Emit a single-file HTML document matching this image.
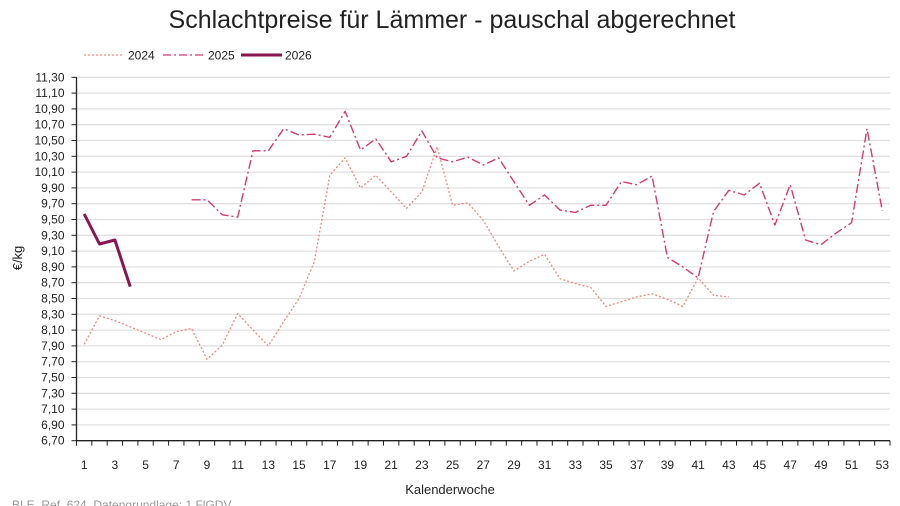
<!DOCTYPE html>
<html><head><meta charset="utf-8"><style>
html,body{margin:0;padding:0;background:#fff;}
svg{display:block;font-family:"Liberation Sans",sans-serif;}
</style></head><body>
<svg id="chart" width="900" height="506" viewBox="0 0 900 506">
<text x="452" y="28" text-anchor="middle" font-size="25" fill="#222">Schlachtpreise für Lämmer - pauschal abgerechnet</text>
<g id="legend">
 <g><line x1="84" y1="55" x2="124" y2="55" stroke="#f08a78" stroke-width="1.2" stroke-dasharray="2,2"/><text x="128" y="59.5" font-size="12" fill="#222">2024</text></g>
 <g><line x1="163" y1="55" x2="203" y2="55" stroke="#d63a6e" stroke-width="1.3" stroke-dasharray="8,3,2,3"/><text x="208" y="59.5" font-size="12" fill="#222">2025</text></g>
 <g><line x1="241" y1="55" x2="282" y2="55" stroke="#8a1650" stroke-width="3"/><text x="285" y="59.5" font-size="12" fill="#222">2026</text></g>
</g>
<g id="grid"></g>
<g id="axes"></g>
<g id="series"></g>
<text x="450" y="494" text-anchor="middle" font-size="13" fill="#222">Kalenderwoche</text>
<text transform="translate(22,258) rotate(-90)" text-anchor="middle" font-size="13" fill="#222">€/kg</text>
<text x="12" y="509" font-size="12" fill="#999">BLE, Ref. 624, Datengrundlage: 1.FlGDV</text>
</svg>
<script>
const weeks2024 = [1,2,3,4,5,6,7,8,9,10,11,12,13,14,15,16,17,18,19,20,21,22,23,24,25,26,27,28,29,30,31,32,33,34,35,36,37,38,39,40,41,42,43];
const values2024 = [7.92,8.28,8.22,8.14,8.06,7.98,8.08,8.12,7.73,7.91,8.31,8.10,7.90,8.21,8.50,8.97,10.06,10.28,9.90,10.06,9.85,9.64,9.85,10.42,9.68,9.71,9.49,9.16,8.85,8.97,9.06,8.75,8.69,8.64,8.40,8.46,8.52,8.56,8.49,8.40,8.76,8.54,8.52];
const weeks2025 = [8,9,10,11,12,13,14,15,16,17,18,19,20,21,22,23,24,25,26,27,28,29,30,31,32,33,34,35,36,37,38,39,40,41,42,43,44,45,46,47,48,49,50,51,52,53];
const values2025 = [9.75,9.75,9.56,9.53,10.37,10.37,10.65,10.57,10.58,10.54,10.87,10.38,10.52,10.23,10.30,10.62,10.28,10.23,10.29,10.19,10.28,9.98,9.68,9.81,9.62,9.59,9.68,9.68,9.98,9.94,10.05,9.02,8.90,8.76,9.60,9.87,9.81,9.96,9.43,9.94,9.24,9.18,9.33,9.46,10.65,9.61];
const weeks2026 = [1,2,3,4];
const values2026 = [9.57,9.19,9.24,8.65];
const yTicks = [6.7,6.9,7.1,7.3,7.5,7.7,7.9,8.1,8.3,8.5,8.7,8.9,9.1,9.3,9.5,9.7,9.9,10.1,10.3,10.5,10.7,10.9,11.1,11.3];
const xLabels = [1,3,5,7,9,11,13,15,17,19,21,23,25,27,29,31,33,35,37,39,41,43,45,47,49,51,53];

const NS="http://www.w3.org/2000/svg";
const L=76.5,R=890,T=77.3,B=440.7,yMin=6.7,yMax=11.3,nW=53;
const bw=(R-L)/nW;
const xs=w=>L+(w-0.5)*bw;
const ys=v=>B-(v-yMin)/(yMax-yMin)*(B-T);
function mk(tag,attrs,parent){const e=document.createElementNS(NS,tag);for(const k in attrs)e.setAttribute(k,attrs[k]);parent.appendChild(e);return e;}
const grid=document.getElementById('grid'),axes=document.getElementById('axes'),series=document.getElementById('series');
yTicks.forEach(v=>{
 const y=ys(v);
 const g=mk('line',{x1:L,x2:R,y1:y,y2:y,stroke:'#e0e0e0','stroke-width':1.3},grid);
 
 
 mk('line',{x1:L-5,x2:L,y1:y,y2:y,stroke:'#222','stroke-width':1},axes);
 const t=mk('text',{x:L-12,y:y+4,'text-anchor':'end','font-size':12,fill:'#222'},axes);
 t.textContent=v.toFixed(2).replace('.',',');
 
 
});
mk('line',{x1:L,x2:L,y1:T,y2:B,stroke:'#222','stroke-width':1.3},axes);
mk('line',{x1:L,x2:R,y1:B,y2:B,stroke:'#222','stroke-width':1.3},axes);
for(let i=0;i<=nW;i++){const x=L+i*bw;mk('line',{x1:x,x2:x,y1:B,y2:B+5,stroke:'#222','stroke-width':1},axes);}
xLabels.forEach(w=>{
 const t=mk('text',{x:xs(w),y:469,'text-anchor':'middle','font-size':12,fill:'#222'},axes);
 t.textContent=w;
 
 
});
function line(ws,vs,attrs,name){
 const d=ws.map((w,i)=>(i?'L':'M')+xs(w).toFixed(1)+','+ys(vs[i]).toFixed(1)).join(' ');
 const p=mk('path',Object.assign({d:d,fill:'none','stroke-linejoin':'round'},attrs),series);
 
 
}
line(weeks2024,values2024,{stroke:'#f08a78','stroke-width':1.3,'stroke-dasharray':'2,2'},'line-2024');
line(weeks2025,values2025,{stroke:'#d63a6e','stroke-width':1.4,'stroke-dasharray':'9,3,2,3'},'line-2025');
line(weeks2026,values2026,{stroke:'#8a1650','stroke-width':3},'line-2026');
</script>
</body></html>
